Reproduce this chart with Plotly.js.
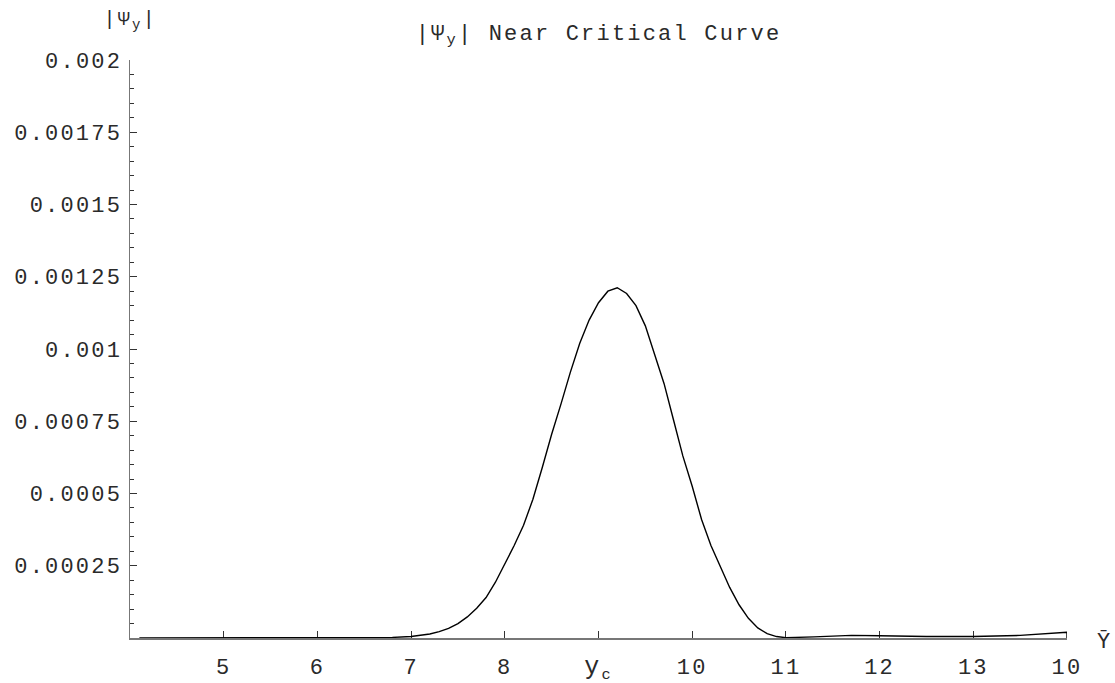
<!DOCTYPE html>
<html>
<head>
<meta charset="utf-8">
<script src="https://cdn.plot.ly/plotly-3.0.1.min.js"></script>
<style>
html,body{margin:0;padding:0;background:#fff;}
#chart{width:1115px;height:683px;}
#chart svg text{letter-spacing:2.2px;}
</style>
</head>
<body>
<div id="chart"></div>
<script>
// Data
const yBar = [4.1, 4.5, 5.0, 5.5, 6.0, 6.3, 6.6, 6.8, 7.0, 7.1, 7.2, 7.3, 7.4, 7.5, 7.6, 7.7, 7.8, 7.9, 8.0, 8.1, 8.2, 8.3, 8.4, 8.5, 8.6, 8.7, 8.8, 8.9, 9.0, 9.1, 9.2, 9.3, 9.4, 9.5, 9.6, 9.7, 9.8, 9.9, 10.0, 10.1, 10.2, 10.3, 10.4, 10.5, 10.6, 10.7, 10.8, 10.9, 11.0, 11.3, 11.7, 12.0, 12.5, 13.0, 13.5, 14.0, 14.0];
const psiY = [0, 0, 0, 0, 0, 0.0000005, 0.000001, 0.000002, 0.000005, 0.000009, 0.000014, 0.000022, 0.000033, 0.00005, 0.000073, 0.000103, 0.00014, 0.000193, 0.000256, 0.00032, 0.00039, 0.00048, 0.00059, 0.000705, 0.00081, 0.00092, 0.00102, 0.0011, 0.00116, 0.0012, 0.001212, 0.001192, 0.00115, 0.00108, 0.00098, 0.00088, 0.000755, 0.00063, 0.000525, 0.00041, 0.00032, 0.000245, 0.000175, 0.000115, 0.000068, 0.000035, 0.000015, 0.000005, 0.000001, 0.000004, 0.000009, 0.000008, 0.000005, 0.000005, 0.000009, 0.00002, 0];

const xTickVals = [5, 6, 7, 8, 9, 10, 11, 12, 13, 14];
const xTickText = ["5", "6", "7", "8", "<span style=\"font-size:25px\">y</span><sub>c</sub>", "10", "11", "12", "13", "10"];
const yTickVals = [0.00025, 0.0005, 0.00075, 0.001, 0.00125, 0.0015, 0.00175, 0.002];
const yTickText = ["0.00025", "0.0005", "0.00075", "0.001", "0.00125", "0.0015", "0.00175", "0.002"];

const titleText = "|\u03A8<sub>y</sub>| Near Critical Curve";
const yLabel = "|\u03A8<sub>y</sub>|";
const xLabel = "\u0232";

const mono = "'Liberation Mono', 'Courier New', monospace";
const txt = '#2a2a2a';

const trace = {
  x: yBar,
  y: psiY,
  type: 'scatter',
  mode: 'lines',
  line: {color: '#000', width: 1.4},
  hoverinfo: 'skip',
  cliponaxis: false
};

const layout = {
  width: 1115,
  height: 683,
  margin: {l: 130, r: 48, t: 60, b: 45, pad: 0},
  paper_bgcolor: '#fff',
  plot_bgcolor: '#fff',
  showlegend: false,
  font: {family: mono, size: 22, color: txt},
  title: {
    text: titleText,
    font: {family: mono, size: 22, color: txt},
    x: 0.5, xref: 'paper',
    y: 1 - 32 / 683, yref: 'container', yanchor: 'middle'
  },
  xaxis: {
    range: [4, 14],
    tickmode: 'array',
    tickvals: xTickVals,
    ticktext: xTickText,
    ticks: 'inside',
    ticklen: 7,
    tickwidth: 1,
    tickcolor: '#333',
    showline: true,
    linecolor: '#777',
    linewidth: 1.5,
    showgrid: false,
    zeroline: false,
    layer: 'below traces',
    ticklabelstandoff: 8,
    tickfont: {family: mono, size: 22, color: txt}
  },
  yaxis: {
    range: [0, 0.002],
    tickmode: 'array',
    tickvals: yTickVals,
    ticktext: yTickText,
    ticks: 'inside',
    ticklen: 7,
    tickwidth: 1,
    tickcolor: '#333',
    minor: {tickmode: 'linear', tick0: 0, dtick: 0.00005, ticks: 'inside', ticklen: 4, tickwidth: 1, tickcolor: '#333', showgrid: false},
    showline: true,
    linecolor: '#777',
    linewidth: 1.5,
    showgrid: false,
    zeroline: false,
    layer: 'below traces',
    ticklabelstandoff: 2,
    tickfont: {family: mono, size: 22, color: txt}
  },
  annotations: [
    {text: yLabel, xref: 'paper', yref: 'paper', x: 0, y: 1 + 40 / 578, xanchor: 'center', yanchor: 'middle', showarrow: false, font: {family: mono, size: 20, color: txt}},
    {text: xLabel, xref: 'paper', yref: 'paper', x: 1 + 37 / 937, y: -4 / 578, xanchor: 'center', yanchor: 'middle', showarrow: false, font: {family: mono, size: 22, color: txt}}
  ]
};

Plotly.newPlot('chart', [trace], layout, {displayModeBar: false, staticPlot: true});
</script>
</body>
</html>
